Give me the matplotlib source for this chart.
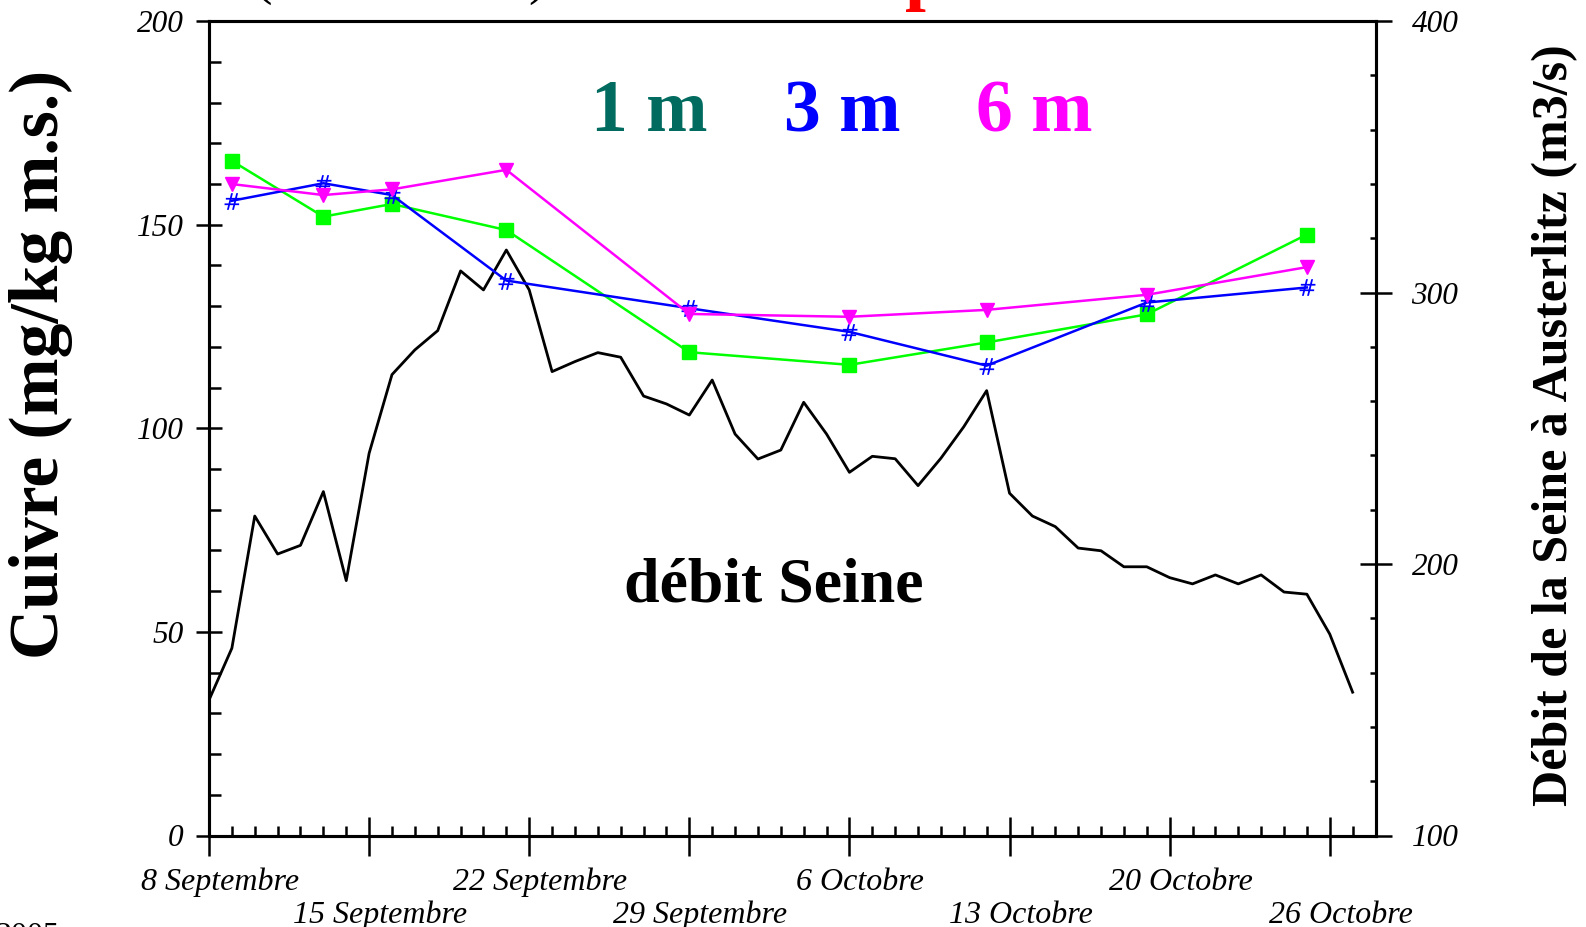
import numpy as np
import matplotlib
matplotlib.use("Agg")
import matplotlib.pyplot as plt
from matplotlib.ticker import MultipleLocator
import matplotlib.transforms as mtransforms

plt.rcParams['font.family'] = ['Liberation Serif', 'DejaVu Serif']

# days counted from 8 September
sample_days = [1, 5, 8, 13, 21, 28, 34, 41, 48]
cu_1m = [165.7, 152.0, 155.1, 148.7, 118.7, 115.6, 121.1, 128.0, 147.6]
cu_3m = [155.9, 160.2, 157.3, 136.3, 129.5, 123.7, 115.4, 130.9, 134.6]
cu_6m = [160.0, 157.3, 158.7, 163.5, 128.1, 127.4, 129.1, 132.8, 139.6]

# daily Seine discharge at Austerlitz (m3/s)
flow = [149.9, 169.0, 217.7, 203.7, 206.9, 226.7, 193.9, 240.8, 269.8, 278.9,
        286.0, 308.0, 301.0, 315.7, 301.0, 270.9, 274.6, 277.9, 276.2, 261.9,
        259.0, 254.9, 267.8, 247.9, 238.7, 242.0, 259.6, 247.9, 233.8, 239.7,
        238.8, 228.9, 239.0, 250.6, 263.9, 226.1, 217.7, 213.8, 205.9, 204.9,
        199.0, 199.0, 195.0, 192.7, 196.0, 192.7, 196.0, 189.7, 188.9, 174.2,
        152.8]
flow_days = np.arange(len(flow))

tick_days = [0, 7, 14, 21, 28, 35, 42, 49]
tick_names = ['8 Septembre', '15 Septembre', '22 Septembre', '29 Septembre',
              '6 Octobre', '13 Octobre', '20 Octobre', '26 Octobre']

PT = 72 / 100  # pixels -> points at dpi 100

fig = plt.figure(figsize=(15.86, 9.27), dpi=100)
ax = fig.add_axes([209 / 1586, 1 - 835.5 / 927, (1375.5 - 209) / 1586, (835.5 - 21.2) / 927])
ax2 = ax.twinx()

# discharge on the right axis
ax2.plot(flow_days, flow, color='black', lw=2.0)
ax2.set_ylim(100, 400)

# copper on the left axis, drawn over the discharge
ax.set_zorder(ax2.get_zorder() + 1)
ax.patch.set_visible(False)
ax.plot(sample_days, cu_1m, color='#00ff00', lw=1.8, marker='s', ms=10, mec='#00ff00')
ax.plot(sample_days, cu_3m, color='#0000ff', lw=1.8, marker=r'$\#$', ms=12, mew=0)
ax.plot(sample_days, cu_6m, color='#ff00ff', lw=1.8, marker='v', ms=10)

ax.set_xlim(0, 51)
ax.set_ylim(0, 200)

for a in (ax, ax2):
    for s in a.spines.values():
        s.set_linewidth(2.2)

ax.xaxis.set_major_locator(MultipleLocator(7))
ax.xaxis.set_minor_locator(MultipleLocator(1))
ax.yaxis.set_major_locator(MultipleLocator(50))
ax.yaxis.set_minor_locator(MultipleLocator(10))
ax2.yaxis.set_major_locator(MultipleLocator(100))
ax2.yaxis.set_minor_locator(MultipleLocator(20))

ax.tick_params(axis='x', which='major', direction='inout', length=39 * PT, width=1.8,
               labelbottom=False, top=False)
ax.tick_params(axis='x', which='minor', direction='in', length=10 * PT, width=1.8, top=False)
ax.tick_params(axis='y', which='major', direction='inout', length=27 * PT, width=1.8,
               labelsize=22.5, pad=12 * PT)
ax.tick_params(axis='y', which='minor', direction='in', length=12 * PT, width=1.8)
ax2.tick_params(axis='y', which='major', direction='inout', length=32 * PT, width=1.8,
                labelsize=22.5, pad=20 * PT)
ax2.tick_params(axis='y', which='minor', direction='in', length=6 * PT, width=1.8)
for lab in ax.get_yticklabels() + ax2.get_yticklabels():
    lab.set_fontstyle('italic')

# date labels on two staggered rows
trans = mtransforms.blended_transform_factory(ax.transData, ax.transAxes)
for i, (d, name) in enumerate(zip(tick_days, tick_names)):
    ax.text(d + 0.48, -0.058 if i % 2 == 0 else -0.098, name, transform=trans,
            ha='center', va='center', fontsize=23, fontstyle='italic', clip_on=False)

fig.text(41 / 1586, 1 - 364 / 927, 'Cuivre (mg/kg m.s.)', rotation=90,
         ha='center', va='center', fontsize=50, fontweight='bold')
fig.text(1555 / 1586, 1 - 425 / 927, 'Débit de la Seine à Austerlitz (m3/s)', rotation=90,
         ha='center', va='center', fontsize=36, fontweight='bold')

for label, color, x in [('1 m', '#006b5e', 649), ('3 m', '#0000ff', 842), ('6 m', '#ff00ff', 1034)]:
    fig.text(x / 1586, 1 - 131 / 927, label, color=color, ha='center', va='baseline',
             fontsize=53, fontweight='bold')

fig.text(774 / 1586, 1 - 602 / 927, 'débit Seine', ha='center', va='baseline',
         fontsize=46, fontweight='bold')

# title line sitting just above the frame
fig.text(263 / 1586, 1 + 7 / 927, '(', ha='center', va='baseline', fontsize=40)
fig.text(538 / 1586, 1 + 7 / 927, ')', ha='center', va='baseline', fontsize=40)
fig.text(926 / 1586, 1 + 3.5 / 927, 'p', color='red', ha='center', va='baseline',
         fontsize=54, fontweight='bold')
fig.text(-0.003, 1 - 922 / 927, '2005', ha='left', va='top', fontsize=23)

fig.savefig('out.png', dpi=100)
